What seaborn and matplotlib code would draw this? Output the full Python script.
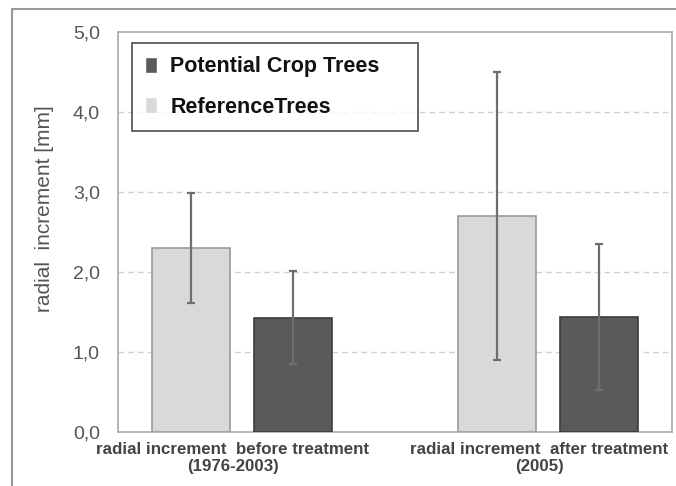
import matplotlib
matplotlib.use('Agg')
import matplotlib.pyplot as plt
import matplotlib.transforms as mtrans
import seaborn as sns
import pandas as pd
from matplotlib.patches import Rectangle

# --- datos ---
periods = ['radial increment  before treatment\n(1976-2003)',
           'radial increment  after treatment\n(2005)']
groups = ['ReferenceTrees', 'Potential Crop Trees']
reference_mean = [2.30, 2.70]
reference_sd = [0.69, 1.80]
crop_mean = [1.43, 1.44]
crop_sd = [0.58, 0.91]

df = pd.DataFrame({
    'period': periods * 2,
    'group': [groups[0]] * 2 + [groups[1]] * 2,
    'value': reference_mean + crop_mean,
    'sd': reference_sd + crop_sd,
})

sns.set_style('white')
plt.rcParams['font.family'] = ['Liberation Sans', 'DejaVu Sans']

W, H = 676, 486
fig = plt.figure(figsize=(W / 100, H / 100), dpi=100)
# área del gráfico: x 118-672 px, y 32-432 px
ax = fig.add_axes([118 / W, 1 - 432 / H, 554 / W, 400 / H])

palette = {groups[0]: '#d9d9d9', groups[1]: '#5a5a5a'}
sns.barplot(data=df, x='period', y='value', hue='group', hue_order=groups,
            palette=palette, width=0.667, gap=0.235, errorbar=None,
            saturation=1, ax=ax, zorder=3)

# bordes de las barras y barras de error
for container, grp in zip(ax.containers, groups):
    sub = df[df['group'] == grp]
    xs = [p.get_x() + p.get_width() / 2 for p in container]
    for p in container:
        p.set_edgecolor('#9a9a9a' if grp == groups[0] else '#3c3c3c')
        p.set_linewidth(1.2)
    ax.errorbar(xs, sub['value'], yerr=sub['sd'], fmt='none',
                ecolor='#6e6e6e', elinewidth=1.6, capsize=3, capthick=1.6,
                zorder=4)

ax.set_ylim(0, 5)
ax.set_xlim(-0.405, 1.405)
ax.set_yticks([0, 1, 2, 3, 4, 5])
ax.set_yticklabels([f'{v:.1f}'.replace('.', ',') for v in range(6)],
                   fontsize=14, color='#555555')
ax.tick_params(axis='y', length=5, color='#999999', pad=8)
ax.tick_params(axis='x', length=0, pad=7)
shift = mtrans.ScaledTranslation(-9 / 100, 0, fig.dpi_scale_trans)
for lbl in ax.get_xticklabels():
    lbl.set_fontsize(12.2)
    lbl.set_fontweight('bold')
    lbl.set_color('#444444')
    lbl.set_linespacing(1.15)
    lbl.set_transform(lbl.get_transform() + shift)

for y in [1, 2, 3, 4]:
    ax.axhline(y, color='#d0d0d0', linestyle=(0, (4, 3)), linewidth=1, zorder=1)

for s in ax.spines.values():
    s.set_color('#aaaaaa')
    s.set_linewidth(1.2)

ax.set_xlabel('')
ax.set_ylabel('radial  increment [mm]', fontsize=15, color='#555555')
ax.yaxis.set_label_coords(-0.115, 0.5575)

handles, labels = ax.get_legend_handles_labels()
leg = ax.legend(handles[::-1], labels[::-1], loc='upper left',
                bbox_to_anchor=(132 / W, 1 - 132 / H, 286 / W, 89 / H),
                bbox_transform=fig.transFigure, mode='expand',
                borderaxespad=0, frameon=True, fancybox=False,
                edgecolor='#333333', handlelength=0.56, handleheight=0.79,
                handletextpad=0.6, borderpad=0.62, labelspacing=0.9,
                prop={'weight': 'bold', 'size': 15.5})
leg.get_frame().set_linewidth(1.3)
for t in leg.get_texts():
    t.set_color('#111111')

# marco exterior de la figura
fig.patches.append(Rectangle((12 / W, -0.01), 1.0, 1 - 9 / H + 0.01,
                             transform=fig.transFigure, fill=False,
                             edgecolor='#999999', linewidth=1.5))

fig.savefig('out.png', dpi=100)
